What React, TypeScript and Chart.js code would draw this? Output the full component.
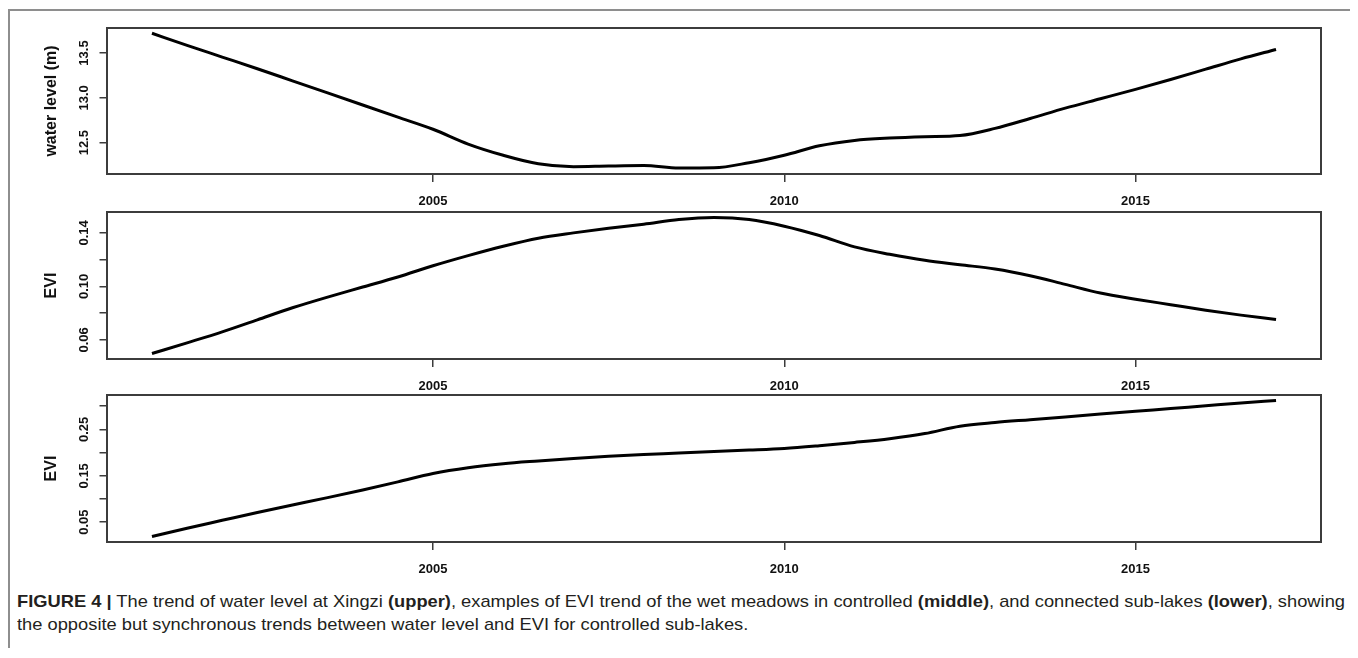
import React, { useEffect, useRef } from "react";
import { Chart, registerables } from "chart.js";

Chart.register(...registerables);
Chart.defaults.font.family = "'Liberation Sans', Arial, sans-serif";

// ---- data ----
const years = [
  2001, 2001.5, 2002, 2002.5, 2003, 2003.5, 2004, 2004.5, 2005, 2005.5, 2006,
  2006.5, 2007, 2007.5, 2008, 2008.5, 2009, 2009.5, 2010, 2010.5, 2011, 2011.5,
  2012, 2012.5, 2013, 2013.5, 2014, 2014.5, 2015, 2015.5, 2016, 2016.5, 2017,
];

const waterLevel = [
  13.72, 13.585, 13.455, 13.325, 13.19, 13.055, 12.92, 12.785, 12.65, 12.485, 12.36,
  12.265, 12.232, 12.24, 12.245, 12.218, 12.22, 12.277, 12.36, 12.465, 12.525,
  12.552, 12.567, 12.58, 12.66, 12.77, 12.885, 12.99, 13.095, 13.205, 13.32,
  13.435, 13.54,
];

const eviControlled = [
  0.0498, 0.0578, 0.066, 0.075, 0.084, 0.092, 0.0995, 0.107, 0.1154, 0.123, 0.13,
  0.136, 0.14, 0.1435, 0.1465, 0.15, 0.1515, 0.15, 0.145, 0.138, 0.1295, 0.124,
  0.1195, 0.1162, 0.113, 0.108, 0.1015, 0.095, 0.0904, 0.0863, 0.0822, 0.0785,
  0.0752,
];

const eviConnected = [
  0.019, 0.037, 0.054, 0.071, 0.087, 0.103, 0.1195, 0.137, 0.155, 0.1675, 0.176,
  0.182, 0.1875, 0.192, 0.196, 0.199, 0.2025, 0.2055, 0.209, 0.215, 0.222, 0.23,
  0.241, 0.257, 0.265, 0.271, 0.277, 0.283, 0.289, 0.295, 0.301, 0.307, 0.3125,
];

const xTicks = [2005, 2010, 2015];
const xRange = [2000.36, 2017.64];

const waterTicks = [12.5, 13.0, 13.5];
const waterTickLabels = ["12.5", "13.0", "13.5"];
const waterRange = [12.151, 13.779];

const eviControlledTicks = [0.06, 0.08, 0.1, 0.12, 0.14];
const eviControlledTickLabels = ["0.06", "", "0.10", "", "0.14"];
const eviControlledRange = [0.0457, 0.1556];

const eviConnectedTicks = [0.05, 0.1, 0.15, 0.2, 0.25, 0.3];
const eviConnectedTickLabels = ["0.05", "", "0.15", "", "0.25", ""];
const eviConnectedRange = [0.0073, 0.3242];

const CANVAS_W = 1344;
const AXIS_COLOR = "#3c3c3c";
const TEXT_COLOR = "#111";

type PanelProps = {
  values: number[];
  ticks: number[];
  tickLabels: string[];
  range: number[];
  title: string;
  top: number; // page y of canvas top
  height: number;
  areaTop: number; // page y of plot area top
  areaBottom: number; // page y of plot area bottom
};

function Panel(p: PanelProps) {
  const ref = useRef<HTMLCanvasElement>(null);
  useEffect(() => {
    if (!ref.current) return;
    const boxPlugin = {
      id: "plotBox",
      afterDatasetsDraw(chart: any) {
        const { ctx, chartArea: a } = chart;
        ctx.save();
        ctx.strokeStyle = AXIS_COLOR;
        ctx.lineWidth = 2;
        ctx.strokeRect(a.left, a.top, a.right - a.left, a.bottom - a.top);
        ctx.restore();
      },
    };
    const chart = new Chart(ref.current, {
      type: "line",
      data: {
        datasets: [
          {
            data: years.map((x, i) => ({ x, y: p.values[i] })),
            borderColor: "#000",
            borderWidth: 3,
            pointRadius: 0,
            cubicInterpolationMode: "monotone",
            fill: false,
          },
        ],
      },
      options: {
        animation: false,
        responsive: false,
        maintainAspectRatio: false,
        layout: { padding: { top: p.areaTop - p.top, right: 31, left: 0, bottom: 0 } },
        plugins: { legend: { display: false }, tooltip: { enabled: false } },
        scales: {
          x: {
            type: "linear",
            min: xRange[0],
            max: xRange[1],
            afterBuildTicks: (s: any) => {
              s.ticks = xTicks.map((v) => ({ value: v }));
            },
            afterFit: (s: any) => {
              s.height = p.top + p.height - p.areaBottom;
            },
            grid: {
              drawOnChartArea: false,
              drawTicks: true,
              tickLength: 8,
              color: AXIS_COLOR,
              lineWidth: 1.5,
            },
            border: { display: false },
            ticks: {
              autoSkip: false,
              maxRotation: 0,
              padding: 12,
              color: TEXT_COLOR,
              font: { size: 13, weight: "bold" },
              callback: (v: any) => String(v),
            },
          },
          y: {
            type: "linear",
            min: p.range[0],
            max: p.range[1],
            afterBuildTicks: (s: any) => {
              s.ticks = p.ticks.map((v) => ({ value: v }));
            },
            afterFit: (s: any) => {
              s.width = 99;
            },
            grid: {
              drawOnChartArea: false,
              drawTicks: true,
              tickLength: 7.5,
              color: AXIS_COLOR,
              lineWidth: 1.5,
            },
            border: { display: false },
            ticks: {
              autoSkip: false,
              minRotation: 90,
              maxRotation: 90,
              crossAlign: "center",
              padding: 2,
              color: TEXT_COLOR,
              font: { size: 13, weight: "bold" },
              callback: (_v: any, i: number) => p.tickLabels[i],
            },
            title: {
              display: true,
              text: p.title,
              color: TEXT_COLOR,
              font: { size: 16, weight: "bold" },
              padding: { top: 34.4, bottom: 0 },
            },
          },
        },
      } as any,
      plugins: [boxPlugin],
    });
    return () => chart.destroy();
  }, []);
  return (
    <canvas
      ref={ref}
      width={CANVAS_W}
      height={p.height}
      style={{ position: "absolute", left: 0, top: p.top - 8, width: CANVAS_W, height: p.height }}
    />
  );
}

export default function App() {
  const capRef = useRef<HTMLSpanElement>(null);
  const capBox = useRef<HTMLDivElement>(null);
  useEffect(() => {
    document.body.style.overflow = "hidden";
    if (capRef.current && capBox.current) {
      const w = capRef.current.getBoundingClientRect().width;
      if (w > 0) capBox.current.style.transform = `scaleX(${1328 / w})`;
    }
  }, []);
  return (
    <div style={{ position: "relative", width: 1344, height: 640 }}>
      <div
        style={{
          position: "absolute",
          left: 0,
          top: 1,
          width: 1344,
          height: 649,
          boxSizing: "border-box",
          border: "2px solid #8e8e8e",
          borderBottom: "none",
        }}
      />
      <Panel
        values={waterLevel}
        ticks={waterTicks}
        tickLabels={waterTickLabels}
        range={waterRange}
        title="water level (m)"
        top={10}
        height={200}
        areaTop={28}
        areaBottom={174}
      />
      <Panel
        values={eviControlled}
        ticks={eviControlledTicks}
        tickLabels={eviControlledTickLabels}
        range={eviControlledRange}
        title="EVI"
        top={194}
        height={200}
        areaTop={212}
        areaBottom={359}
      />
      <Panel
        values={eviConnected}
        ticks={eviConnectedTicks}
        tickLabels={eviConnectedTickLabels}
        range={eviConnectedRange}
        title="EVI"
        top={377}
        height={203}
        areaTop={395}
        areaBottom={542}
      />
      <div
        ref={capBox}
        style={{
          position: "absolute",
          left: 9,
          top: 582,
          fontFamily: "'Liberation Sans', Arial, sans-serif",
          fontSize: 17,
          lineHeight: "23px",
          color: "#231f20",
          whiteSpace: "nowrap",
          transformOrigin: "left top",
        }}
      >
        <div>
          <span ref={capRef}>
            <b>FIGURE 4 |</b> The trend of water level at Xingzi <b>(upper)</b>, examples of EVI
            trend of the wet meadows in controlled <b>(middle)</b>, and connected sub-lakes{" "}
            <b>(lower)</b>, showing
          </span>
        </div>
        <div>the opposite but synchronous trends between water level and EVI for controlled sub-lakes.</div>
      </div>
    </div>
  );
}
